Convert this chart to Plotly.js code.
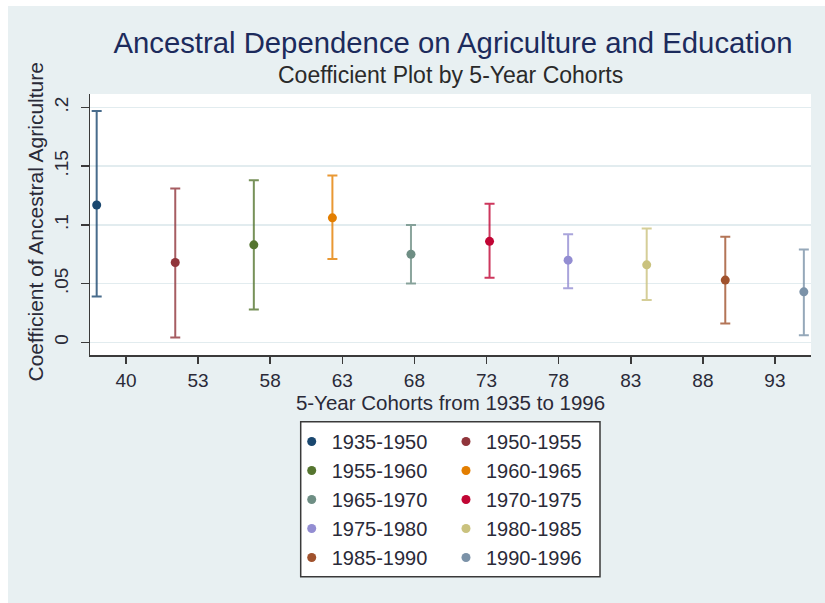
<!DOCTYPE html>
<html>
<head>
<meta charset="utf-8">
<script src="https://cdn.plot.ly/plotly-3.0.1.min.js"></script>
<style>
  html, body { margin: 0; padding: 0; background: #e8f0f2; }
  #chart { width: 825px; height: 603px; }
</style>
</head>
<body>
<div id="chart"></div>
<script>
// ---- Data ----
const cohorts = ["1935-1950", "1950-1955", "1955-1960", "1960-1965", "1965-1970",
                 "1970-1975", "1975-1980", "1980-1985", "1985-1990", "1990-1996"];
const xPos    = [1, 2, 3, 4, 5, 6, 7, 8, 9, 10];
const coef    = [0.117, 0.068, 0.083, 0.106, 0.075, 0.086, 0.070, 0.066, 0.053, 0.043];
const ciLow   = [0.039, 0.004, 0.028, 0.071, 0.050, 0.055, 0.046, 0.036, 0.016, 0.006];
const ciHigh  = [0.197, 0.131, 0.138, 0.142, 0.100, 0.118, 0.092, 0.097, 0.090, 0.079];
const colors  = ["#1a476f", "#90353b", "#55752f", "#e37e00", "#6e8e84",
                 "#c10534", "#938dd2", "#cac27e", "#a0522d", "#7b92a8"];
const xTickPos    = [1.373, 2.291, 3.208, 4.126, 5.044, 5.962, 6.879, 7.797, 8.715, 9.632];
const xTickLabels = ["40", "53", "58", "63", "68", "73", "78", "83", "88", "93"];
const yTickVals   = [0, 0.05, 0.1, 0.15, 0.2];
const yTickLabels = ["0", ".05", ".1", ".15", ".2"];

// ---- Geometry helpers (pixel -> paper) ----
const W = 825, H = 603;
const M = { l: 90, r: 14, t: 94, b: 248 };
const PW = W - M.l - M.r, PH = H - M.t - M.b;
const px = x => (x - M.l) / PW;
const py = y => 1 - (y - M.t) / PH;

function hexToRgba(h, a) {
  const n = parseInt(h.slice(1), 16);
  return `rgba(${(n >> 16) & 255},${(n >> 8) & 255},${n & 255},${a})`;
}

const traces = cohorts.map((name, i) => ({
  type: "scatter",
  mode: "markers",
  name: name,
  x: [xPos[i]],
  y: [coef[i]],
  marker: { color: colors[i], size: 9 },
  error_y: {
    type: "data",
    symmetric: false,
    array: [ciHigh[i] - coef[i]],
    arrayminus: [coef[i] - ciLow[i]],
    color: hexToRgba(colors[i], 0.8),
    thickness: 2,
    width: 5
  },
  legend: i % 2 === 0 ? "legend" : "legend2",
  cliponaxis: false
}));

const axisColor = "#3a3a3a";
const textColor = "#2a2a38";
const font = "Liberation Sans, Arial, sans-serif";

const legendCommon = {
  xref: "container", yref: "container",
  xanchor: "left", yanchor: "top",
  bgcolor: "rgba(0,0,0,0)", borderwidth: 0,
  font: { family: font, size: 20, color: textColor },
  tracegroupgap: 0
};

const layout = {
  width: W, height: H,
  margin: { l: M.l, r: M.r, t: M.t, b: M.b, pad: 0, autoexpand: false },
  paper_bgcolor: "#e8f0f2",
  plot_bgcolor: "#ffffff",
  font: { family: font, color: textColor },
  title: {
    text: "Ancestral Dependence on Agriculture and Education",
    xref: "container", yref: "container",
    x: 453 / W, y: 1 - 43 / H, xanchor: "center", yanchor: "middle",
    font: { family: font, size: 29.3, color: "#1c2b5c" }
  },
  annotations: [
    {
      text: "Coefficient Plot by 5-Year Cohorts",
      xref: "paper", yref: "paper",
      x: px(450), y: py(75), xanchor: "center", yanchor: "middle",
      showarrow: false,
      font: { family: font, size: 23, color: "#2a2a2a" }
    },
    {
      text: "Coefficient of Ancestral Agriculture",
      xref: "paper", yref: "paper",
      x: px(35), y: py(222.5), xanchor: "center", yanchor: "middle",
      textangle: -90, showarrow: false,
      font: { family: font, size: 21, color: textColor }
    }
  ],
  xaxis: {
    range: [0.915, 10.091],
    tickmode: "array", tickvals: xTickPos, ticktext: xTickLabels,
    ticks: "outside", ticklen: 7, tickwidth: 1.5, tickcolor: axisColor,
    showline: true, linecolor: axisColor, linewidth: 1.5,
    showgrid: false, zeroline: false,
    tickfont: { family: font, size: 19, color: textColor },
    ticklabelstandoff: 1,
    title: { text: "5-Year Cohorts from 1935 to 1996",
             font: { family: font, size: 20.5, color: textColor }, standoff: 5 }
  },
  yaxis: {
    range: [-0.0108, 0.2115],
    tickmode: "array", tickvals: yTickVals, ticktext: yTickLabels,
    tickangle: -90,
    ticks: "outside", ticklen: 8, tickwidth: 1.5, tickcolor: axisColor,
    showline: true, linecolor: axisColor, linewidth: 1.5,
    showgrid: true, gridcolor: "#e2ecef", gridwidth: 1.5, zeroline: false,
    tickfont: { family: font, size: 19, color: textColor },
    ticklabelstandoff: 5
  },
  legend: Object.assign({}, legendCommon, { x: 291.7 / W, y: 1 - 422 / H }),
  legend2: Object.assign({}, legendCommon, { x: 446 / W, y: 1 - 422 / H }),
  shapes: [
    { type: "rect", xref: "paper", yref: "paper", layer: "below",
      x0: px(300.7), x1: px(600), y0: py(576.7), y1: py(421.7),
      line: { color: "#3a3a3a", width: 1.5 }, fillcolor: "#ffffff" },
    { type: "rect", xref: "paper", yref: "paper", layer: "below",
      x0: px(0), x1: px(8), y0: py(H), y1: py(0),
      line: { width: 0 }, fillcolor: "#ffffff" },
    { type: "rect", xref: "paper", yref: "paper", layer: "below",
      x0: px(0), x1: px(W), y0: py(6), y1: py(0),
      line: { width: 0 }, fillcolor: "#ffffff" }
  ],
  showlegend: true
};

Plotly.newPlot("chart", traces, layout, { displayModeBar: false, staticPlot: true });
</script>
</body>
</html>
